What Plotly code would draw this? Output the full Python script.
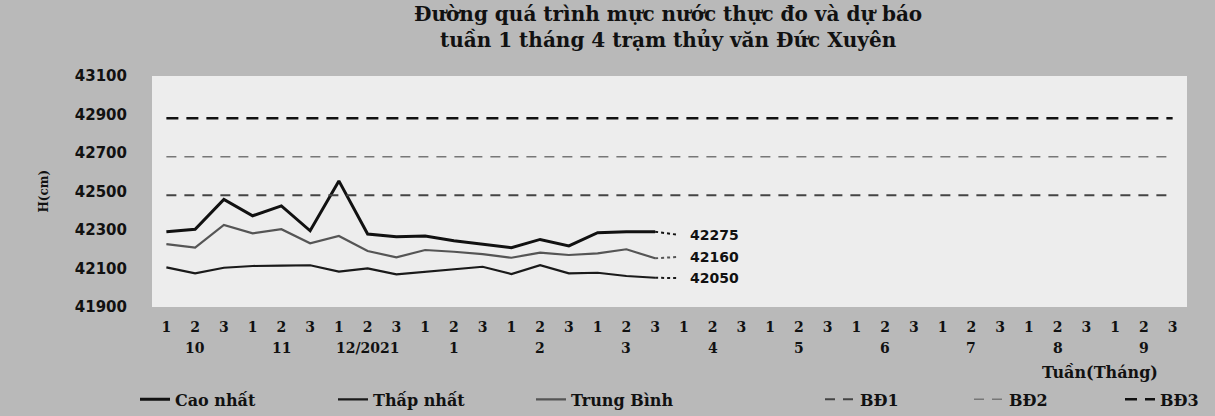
import plotly.graph_objects as go

# ---- data ----
dekads = ["1", "2", "3"] * 12
months = ["10", "11", "12/2021", "1", "2", "3", "4", "5", "6", "7", "8", "9"]
x_idx = list(range(36))

cao_nhat = [42291, 42304, 42459, 42374, 42425, 42296, 42555, 42279, 42265,
            42269, 42244, 42227, 42208, 42251, 42217, 42286, 42291, 42291]
trung_binh = [42227, 42208, 42326, 42283, 42304, 42231, 42269, 42191, 42158,
              42196, 42187, 42175, 42156, 42182, 42170, 42179, 42200, 42153]
thap_nhat = [42106, 42075, 42104, 42113, 42115, 42117, 42084, 42101, 42070,
             42084, 42097, 42109, 42071, 42117, 42075, 42078, 42061, 42052]
forecast = {"cao": 42275, "tb": 42160, "thap": 42050}
bd1, bd2, bd3 = 42480, 42680, 42880

yticks = [41900, 42100, 42300, 42500, 42700, 42900, 43100]

SERIF = "DejaVu Serif"
PLOT_L, PLOT_W = 152, 1035


def px(xp):
    return (xp - PLOT_L) / PLOT_W


fig = go.Figure()

n = len(cao_nhat)
obs_x = x_idx[:n]

fig.add_trace(go.Scatter(x=obs_x, y=cao_nhat, mode="lines", name="Cao nhất",
                         line=dict(color="#111111", width=3), legend="legend"))
fig.add_trace(go.Scatter(x=obs_x, y=thap_nhat, mode="lines", name="Thấp nhất",
                         line=dict(color="#1a1a1a", width=2.2), legend="legend"))
fig.add_trace(go.Scatter(x=obs_x, y=trung_binh, mode="lines", name="Trung Bình",
                         line=dict(color="#555555", width=2.2), legend="legend"))

# dotted forecast extensions
for series, key, col in [(cao_nhat, "cao", "#111111"), (trung_binh, "tb", "#555555"),
                         (thap_nhat, "thap", "#1a1a1a")]:
    fig.add_trace(go.Scatter(x=[obs_x[-1], obs_x[-1] + 0.8], y=[series[-1], forecast[key]],
                             mode="lines", showlegend=False,
                             line=dict(color=col, width=2, dash="dot")))
    fig.add_annotation(x=obs_x[-1] + 1.13, y=forecast[key], text=str(forecast[key]),
                       xanchor="left", yanchor="middle", showarrow=False,
                       font=dict(family="DejaVu Sans", size=14, color="#111111", weight="bold"))

fig.add_trace(go.Scatter(x=[x_idx[0], x_idx[-1]], y=[bd1, bd1], mode="lines", name="BĐ1",
                         line=dict(color="#444444", width=2, dash="10px,8px"), legend="legend2"))
fig.add_trace(go.Scatter(x=[x_idx[0], x_idx[-1]], y=[bd2, bd2], mode="lines", name="BĐ2",
                         line=dict(color="#777777", width=1.5, dash="10px,8px"), legend="legend2"))
fig.add_trace(go.Scatter(x=[x_idx[0], x_idx[-1]], y=[bd3, bd3], mode="lines", name="BĐ3",
                         line=dict(color="#111111", width=2.5, dash="12px,8px"), legend="legend3"))

# month labels
for i, m in enumerate(months):
    fig.add_annotation(x=i * 3 + 1, y=0, xref="x", yref="paper", text=m, showarrow=False,
                       xanchor="center", yanchor="middle", yshift=-41,
                       font=dict(family=SERIF, size=14, color="#111111", weight="bold"))
fig.add_annotation(x=px(1100), y=0, xref="paper", yref="paper", text="Tuần(Tháng)",
                   showarrow=False, xanchor="center", yanchor="middle", yshift=-65,
                   font=dict(family=SERIF, size=16, color="#111111", weight="bold"))
fig.add_annotation(x=px(43), y=0.5, xref="paper", yref="paper", text="H(cm)",
                   showarrow=False, textangle=-90, xanchor="center", yanchor="middle",
                   font=dict(family=SERIF, size=12, color="#111111", weight="bold"))

# title
fig.add_annotation(x=px(668), y=1, xref="paper", yref="paper", xanchor="center",
                   yanchor="middle", yshift=49,
                   text="Đường quá trình mực nước thực đo và dự báo<br>tuần 1 tháng 4 trạm thủy văn Đức Xuyên",
                   showarrow=False,
                   font=dict(family=SERIF, size=20, color="#111111", weight="bold"))

leg_font = dict(family=SERIF, size=16, color="#111111", weight="bold")
fig.update_layout(
    width=1215, height=416,
    margin=dict(l=PLOT_L, r=1215 - PLOT_L - PLOT_W, t=76, b=109, autoexpand=False),
    paper_bgcolor="#b9b9b9",
    plot_bgcolor="#ededed",
    xaxis=dict(range=[-0.5, 35.5], tickmode="array", tickvals=x_idx, ticktext=dekads,
               showgrid=False, zeroline=False, showline=False, ticks="", automargin=False,
               ticklabelstandoff=10,
               tickfont=dict(family=SERIF, size=14, color="#111111", weight="bold")),
    yaxis=dict(range=[41900, 43100], tickmode="array", tickvals=yticks,
               ticktext=[str(v) for v in yticks], automargin=False,
               showgrid=False, zeroline=False, showline=False, ticks="",
               ticklabelstandoff=24,
               tickfont=dict(family="DejaVu Sans", size=15, color="#111111", weight="bold")),
    legend=dict(orientation="h", x=px(135), xanchor="left", y=-0.40, yanchor="middle",
                bgcolor="rgba(0,0,0,0)", entrywidth=153, entrywidthmode="pixels",
                font=leg_font),
    legend2=dict(orientation="h", x=px(820), xanchor="left", y=-0.40, yanchor="middle",
                 bgcolor="rgba(0,0,0,0)", entrywidth=104, entrywidthmode="pixels",
                 font=leg_font),
    legend3=dict(orientation="h", x=px(1120), xanchor="left", y=-0.40, yanchor="middle",
                 bgcolor="rgba(0,0,0,0)", font=leg_font),
    showlegend=True,
)

fig.write_html("out.html", config={"displayModeBar": False},
               post_script="document.body.style.margin='0';document.body.style.background='#b9b9b9';")
